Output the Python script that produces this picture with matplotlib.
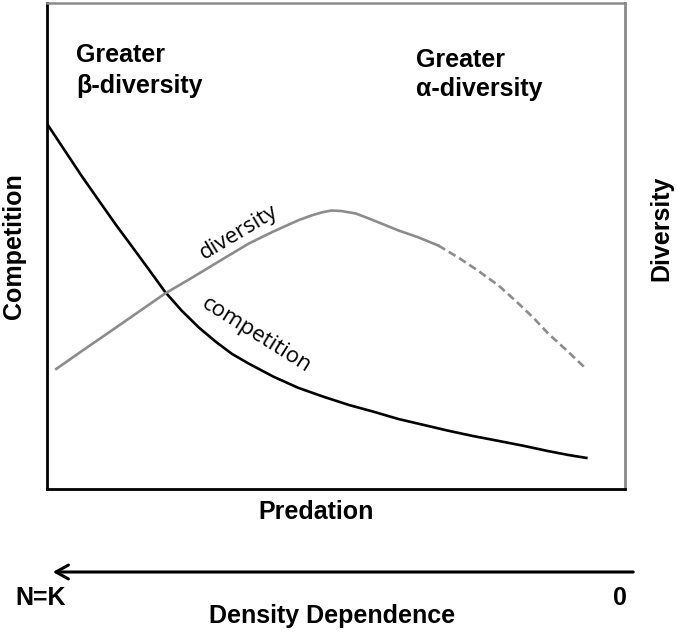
import matplotlib
matplotlib.use("Agg")
import matplotlib.pyplot as plt
from matplotlib.patches import FancyArrowPatch

# Data (predation axis 0-100, response 0-100)
comp_x = [0.2, 3.1, 6.0, 9.0, 11.9, 14.7, 17.6, 20.4, 23.3, 26.3, 29.2, 32.0, 34.9,
          39.2, 43.5, 47.8, 52.2, 56.5, 60.8, 65.1, 69.4, 73.7, 78.1, 82.4, 86.7, 90.2, 93.3]
comp_y = [74.8, 69.6, 64.4, 59.3, 54.4, 49.9, 45.2, 40.6, 36.7, 33.2, 30.3, 27.8, 25.8,
          23.1, 20.8, 19.0, 17.3, 15.9, 14.4, 13.2, 12.0, 10.9, 9.9, 8.9, 7.8, 7.0, 6.4]

div_solid_x = [1.6, 6.4, 10.7, 15.9, 20.4, 25.4, 29.7, 34.9, 39.2, 43.5, 45.8, 47.5,
               49.2, 50.9, 53.4, 55.6, 57.9, 60.8, 64.2, 67.7]
div_solid_y = [24.7, 28.7, 32.2, 36.5, 40.2, 43.7, 46.8, 50.5, 53.0, 55.3, 56.3, 56.9,
               57.3, 57.2, 56.7, 55.7, 54.6, 53.2, 51.8, 50.1]
div_dash_x = [67.7, 71.2, 74.6, 78.1, 81.0, 84.1, 86.7, 90.2, 93.3]
div_dash_y = [50.1, 47.6, 44.9, 41.9, 38.8, 35.3, 32.0, 28.2, 24.7]

W, H = 677, 633
fig = plt.figure(figsize=(W / 100, H / 100), dpi=100)
L, R, T, B = 47, 625, 3, 489
ax = fig.add_axes([L / W, 1 - B / H, (R - L) / W, (B - T) / H])
ax.set_xlim(0, 100)
ax.set_ylim(0, 100)
ax.set_xticks([])
ax.set_yticks([])

for side, col, lw in [("left", "black", 2.0), ("bottom", "black", 2.0),
                      ("top", "#8a8a8a", 1.8), ("right", "#8a8a8a", 2.0)]:
    ax.spines[side].set_color(col)
    ax.spines[side].set_linewidth(lw)

gray = "#8c8c8c"
ax.plot(comp_x, comp_y, color="black", lw=1.9, solid_joinstyle="round")
ax.plot(div_solid_x, div_solid_y, color=gray, lw=1.9, solid_joinstyle="round")
ax.plot(div_dash_x, div_dash_y, color=gray, lw=1.9, ls=(0, (3, 1.6)))


def fx(px):
    return px / W


def fy(py):
    return 1 - py / H


bold = dict(family=["Liberation Sans", "DejaVu Sans"], fontweight="bold", fontsize=18)
fig.text(fx(76), fy(62), "Greater", ha="left", va="baseline", **bold)
fig.text(fx(76), fy(93), "β-diversity", ha="left", va="baseline", **bold)
fig.text(fx(416), fy(67), "Greater", ha="left", va="baseline", **bold)
fig.text(fx(416), fy(96), "α-diversity", ha="left", va="baseline", **bold)

norm = dict(family=["Open Sans", "DejaVu Sans"], fontsize=16)
fig.text(fx(239), fy(232), "diversity", rotation=31, ha="center", va="center", **norm)
fig.text(fx(256), fy(335), "competition", rotation=-32, ha="center", va="center",
         rotation_mode="anchor", **norm)

fig.text(fx(14), fy(246), "Competition", rotation=90, ha="center", va="center", **bold)
fig.text(fx(661), fy(228), "Diversity", rotation=90, ha="center", va="center", **bold)
fig.text(fx(316), fy(512), "Predation", ha="center", va="center", **bold)
fig.text(fx(41), fy(598), "N=K", ha="center", va="center", **bold)
fig.text(fx(620), fy(598), "0", ha="center", va="center", **bold)
fig.text(fx(332), fy(616), "Density Dependence", ha="center", va="center", **bold)

fig.patches.append(FancyArrowPatch(
    (fx(636), fy(572)), (fx(50), fy(572)), transform=fig.transFigure,
    arrowstyle="->,head_length=9,head_width=5", lw=2.2, color="black",
    mutation_scale=1))

fig.savefig("out.png", dpi=100)
